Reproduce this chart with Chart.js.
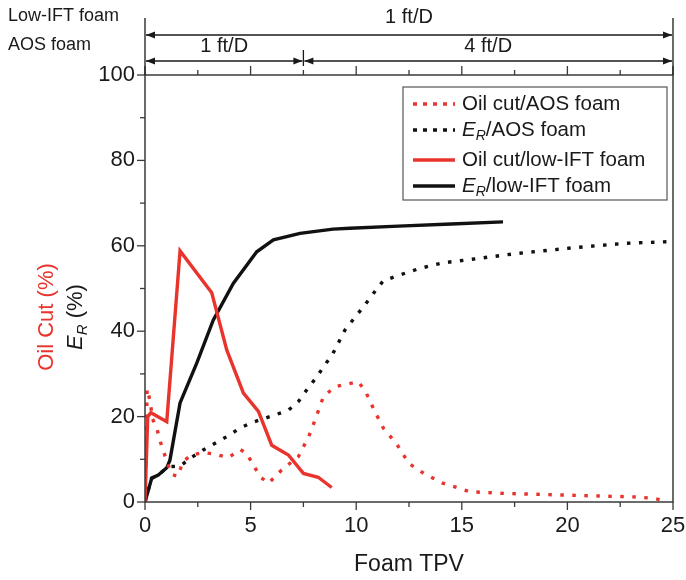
<!DOCTYPE html>
<html>
<head>
<meta charset="utf-8">
<style>
  html, body { margin: 0; padding: 0; background: #fff; }
  #wrap { width: 686px; height: 580px; position: relative; }
</style>
<script src="https://cdn.jsdelivr.net/npm/chart.js@4.4.1/dist/chart.umd.min.js"></script>
</head>
<body>
<div id="wrap"><canvas id="c" width="686" height="580"></canvas></div>
<script>
// Foam TPV (x) against percentage (y) for each series
const oilCutAosX = [0, 0.1, 0.25, 0.35, 0.55, 0.7, 0.9, 1.25, 1.55, 1.8, 2.2, 2.75, 3.3, 3.95, 4.5, 4.8, 5.15, 5.45, 5.85, 6.47, 7.26, 7.75, 8.05, 8.45, 9.0, 10.1, 10.45, 10.9, 11.3, 11.9, 12.5, 13.2, 14.1, 15.4, 17.1, 20.0, 23.1, 24.05, 24.7];
const oilCutAosY = [0, 26.5, 23.5, 19.5, 17.5, 14.5, 11.5, 6.5, 6.0, 9.5, 11.0, 11.6, 11.2, 10.4, 12.3, 11.5, 8.5, 5.9, 4.4, 7.5, 10.6, 15.3, 19.2, 24.7, 27.0, 28.2, 25.8, 21.0, 17.2, 13.7, 9.0, 6.7, 4.4, 2.4, 2.0, 1.6, 1.2, 0.9, 0.2];

const recoveryAosX = [0, 0.3, 0.65, 1.0, 1.18, 1.66, 2.13, 2.76, 3.3, 3.87, 4.5, 5.05, 6.16, 6.79, 7.26, 7.65, 8.13, 8.52, 8.9, 9.47, 10.0, 10.4, 10.84, 11.28, 11.9, 13.0, 14.1, 15.4, 17.6, 20.4, 22.8, 25.0];
const recoveryAosY = [0, 5.5, 6.5, 7.8, 8.3, 8.4, 10.2, 12.2, 13.7, 15.3, 17.3, 18.6, 20.4, 21.5, 23.5, 26.2, 29.3, 32.1, 34.8, 40.3, 43.6, 46.1, 49.0, 51.8, 52.9, 54.7, 56.0, 56.8, 58.2, 59.6, 60.6, 61.0];

const oilCutLowIftX = [0, 0.13, 0.28, 1.03, 1.66, 3.16, 3.87, 4.66, 5.37, 6.0, 6.79, 7.5, 8.2, 8.84];
const oilCutLowIftY = [0, 20.0, 20.9, 18.8, 58.8, 49.0, 35.6, 25.5, 21.2, 13.3, 11.0, 6.7, 5.8, 3.4];

const recoveryLowIftX = [0, 0.32, 0.63, 1.03, 1.18, 1.66, 2.45, 3.23, 4.18, 5.29, 6.08, 7.34, 8.9, 9.7, 12.0, 14.5, 16.95];
const recoveryLowIftY = [0, 5.6, 6.3, 8.0, 9.8, 23.2, 32.5, 42.6, 51.2, 58.6, 61.4, 62.9, 63.9, 64.1, 64.6, 65.1, 65.6];

// Injection-rate spans shown above the plot (in Foam TPV)
const lowIftRateSpans = [{ from: 0, to: 25, label: '1 ft/D' }];
const aosRateSpans = [{ from: 0, to: 7.5, label: '1 ft/D' }, { from: 7.5, to: 25, label: '4 ft/D' }];

const xTicks = [0, 5, 10, 15, 20, 25];
const yTicks = [0, 20, 40, 60, 80, 100];

const RED = '#e8342c';
const BLACK = '#111111';
const AXIS = '#3a3a3a';
const FONT = '"Liberation Sans", Arial, Helvetica, sans-serif';
const DOTS = [3.5, 8.5];

const toPoints = (xs, ys) => xs.map((x, i) => ({ x: x, y: ys[i] }));

const seriesDefs = [
  { label: 'Oil cut/AOS foam', sub: null, data: toPoints(oilCutAosX, oilCutAosY), color: RED, dash: DOTS },
  { label: 'E', sub: 'R', rest: '/AOS foam', data: toPoints(recoveryAosX, recoveryAosY), color: BLACK, dash: DOTS },
  { label: 'Oil cut/low-IFT foam', sub: null, data: toPoints(oilCutLowIftX, oilCutLowIftY), color: RED, dash: [] },
  { label: 'E', sub: 'R', rest: '/low-IFT foam', data: toPoints(recoveryLowIftX, recoveryLowIftY), color: BLACK, dash: [] }
];

// Draws the frame, ticks, axis titles, legend and rate annotations
const decorations = {
  id: 'decorations',
  afterDraw(chart) {
    const ctx = chart.ctx;
    const xs = chart.scales.x, ys = chart.scales.y;
    const a = chart.chartArea;
    ctx.save();

    // frame
    ctx.strokeStyle = AXIS;
    ctx.lineWidth = 1.5;
    ctx.strokeRect(a.left, a.top, a.right - a.left, a.bottom - a.top);

    // x ticks (bottom and top, pointing outward) every 2.5
    ctx.lineWidth = 1.3;
    for (let v = 0; v <= 25.001; v += 2.5) {
      const px = xs.getPixelForValue(v);
      const major = Math.abs(v % 5) < 1e-6;
      const len = major ? 8 : 5;
      ctx.beginPath();
      ctx.moveTo(px, a.bottom); ctx.lineTo(px, a.bottom + len);
      ctx.moveTo(px, a.top); ctx.lineTo(px, a.top - (major ? 9 : 5));
      ctx.stroke();
    }
    // y ticks every 10 on the left
    for (let v = 0; v <= 100; v += 10) {
      const py = ys.getPixelForValue(v);
      const major = v % 20 === 0;
      ctx.beginPath();
      ctx.moveTo(a.left, py); ctx.lineTo(a.left - (major ? 8 : 5), py);
      ctx.stroke();
    }

    // x axis title
    ctx.fillStyle = '#1a1a1a';
    ctx.font = '23px ' + FONT;
    ctx.textAlign = 'center';
    ctx.textBaseline = 'middle';
    ctx.fillText('Foam TPV', (a.left + a.right) / 2, 565);

    // y axis titles
    ctx.save();
    ctx.translate(47, 317);
    ctx.rotate(-Math.PI / 2);
    ctx.fillStyle = RED;
    ctx.font = '22px ' + FONT;
    ctx.fillText('Oil Cut (%)', 0, 0);
    ctx.restore();

    ctx.save();
    ctx.translate(76, 317);
    ctx.rotate(-Math.PI / 2);
    ctx.fillStyle = '#1a1a1a';
    drawSubLabel(ctx, 'E', 'R', ' (%)', 0, 0, 22, 'center');
    ctx.restore();

    // legend
    const lx = 403, ly = 87, lw = 264, lh = 113;
    ctx.fillStyle = '#fff';
    ctx.fillRect(lx, ly, lw, lh);
    ctx.strokeStyle = '#555';
    ctx.lineWidth = 1.2;
    ctx.strokeRect(lx, ly, lw, lh);
    const rows = [104, 130, 160, 186];
    seriesDefs.forEach((s, i) => {
      const ry = rows[i];
      ctx.strokeStyle = s.color;
      ctx.lineWidth = 3.4;
      ctx.setLineDash(s.dash.length ? [4, 6] : []);
      ctx.beginPath();
      ctx.moveTo(413, ry); ctx.lineTo(455, ry);
      ctx.stroke();
      ctx.setLineDash([]);
      ctx.fillStyle = '#1a1a1a';
      ctx.textBaseline = 'middle';
      if (s.sub) {
        drawSubLabel(ctx, s.label, s.sub, s.rest, 462, ry, 20.5, 'left');
      } else {
        ctx.font = '20.5px ' + FONT;
        ctx.textAlign = 'left';
        ctx.fillText(s.label, 462, ry);
      }
    });

    // rate annotations above the plot
    ctx.fillStyle = '#1a1a1a';
    ctx.strokeStyle = '#1a1a1a';
    ctx.font = '18px ' + FONT;
    ctx.textAlign = 'left';
    ctx.textBaseline = 'middle';
    ctx.fillText('Low-IFT foam', 8, 16);
    ctx.fillText('AOS foam', 8, 45);

    ctx.lineWidth = 1.3;
    [0, 25].forEach(v => {
      const px = xs.getPixelForValue(v);
      ctx.beginPath();
      ctx.moveTo(px, 18); ctx.lineTo(px, a.top);
      ctx.stroke();
    });
    drawSpans(ctx, xs, lowIftRateSpans, 35, 17);
    drawSpans(ctx, xs, aosRateSpans, 61, 46);
    ctx.restore();
  }
};

function drawSubLabel(ctx, main, sub, rest, x, y, size, align) {
  const fMain = 'italic ' + size + 'px ' + FONT;
  const fSub = 'italic ' + Math.round(size * 0.7) + 'px ' + FONT;
  const fRest = size + 'px ' + FONT;
  ctx.font = fMain; const w1 = ctx.measureText(main).width;
  ctx.font = fSub; const w2 = ctx.measureText(sub).width;
  ctx.font = fRest; const w3 = ctx.measureText(rest).width;
  const total = w1 + w2 + w3;
  let sx = align === 'center' ? x - total / 2 : x;
  ctx.textAlign = 'left';
  ctx.textBaseline = 'middle';
  ctx.font = fMain; ctx.fillText(main, sx, y);
  ctx.font = fSub; ctx.fillText(sub, sx + w1, y + size * 0.3);
  ctx.font = fRest; ctx.fillText(rest, sx + w1 + w2, y);
}

function arrowHead(ctx, x, y, dir) {
  ctx.beginPath();
  ctx.moveTo(x, y);
  ctx.lineTo(x - dir * 9, y - 3.5);
  ctx.lineTo(x - dir * 9, y + 3.5);
  ctx.closePath();
  ctx.fill();
}

function drawSpans(ctx, xs, spans, lineY, textY) {
  spans.forEach((s, i) => {
    const x0 = xs.getPixelForValue(s.from), x1 = xs.getPixelForValue(s.to);
    ctx.beginPath();
    ctx.moveTo(x0 + 1, lineY); ctx.lineTo(x1 - 1, lineY);
    ctx.stroke();
    arrowHead(ctx, x0 + 1, lineY, -1);
    arrowHead(ctx, x1 - 1, lineY, 1);
    if (i > 0) {
      ctx.beginPath();
      ctx.moveTo(x0, lineY - 11); ctx.lineTo(x0, lineY + 5);
      ctx.stroke();
    }
    ctx.font = '20px ' + FONT;
    ctx.textAlign = 'center';
    ctx.fillText(s.label, (x0 + x1) / 2, textY);
  });
}

new Chart(document.getElementById('c'), {
  type: 'line',
  data: {
    datasets: seriesDefs.map(s => ({
      label: s.sub ? s.label + s.sub + s.rest : s.label,
      data: s.data,
      borderColor: s.color,
      backgroundColor: s.color,
      borderWidth: 3.4,
      borderDash: s.dash,
      borderCapStyle: 'butt',
      pointRadius: 0,
      tension: 0,
      fill: false
    }))
  },
  options: {
    responsive: false,
    animation: false,
    layout: { padding: { top: 75, right: 13, left: 0, bottom: 0 } },
    plugins: { legend: { display: false }, tooltip: { enabled: false } },
    scales: {
      x: {
        type: 'linear', min: 0, max: 25,
        afterBuildTicks: s => { s.ticks = xTicks.map(v => ({ value: v })); },
        afterFit: s => { s.height = 78; s.paddingLeft = 0; s.paddingRight = 0; },
        grid: { display: false, drawTicks: false },
        border: { display: false },
        ticks: { color: '#1a1a1a', font: { family: FONT, size: 22 }, padding: 11, maxRotation: 0 }
      },
      y: {
        min: 0, max: 100,
        afterBuildTicks: s => { s.ticks = yTicks.map(v => ({ value: v })); },
        afterFit: s => { s.width = 145; s.paddingTop = 0; s.paddingBottom = 0; },
        grid: { display: false, drawTicks: false },
        border: { display: false },
        ticks: { color: '#1a1a1a', font: { family: FONT, size: 22 }, padding: 10 }
      }
    }
  },
  plugins: [decorations]
});
</script>
</body>
</html>
